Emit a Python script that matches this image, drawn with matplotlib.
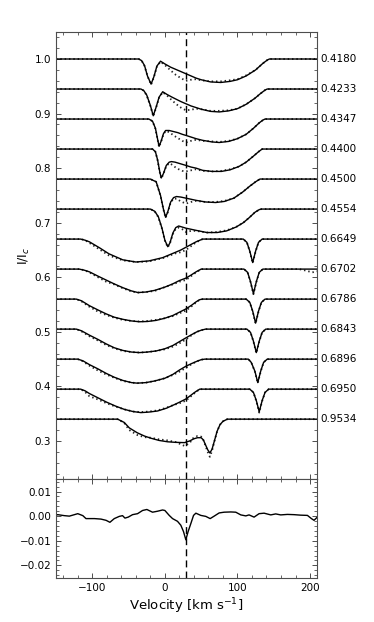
import numpy as np
import matplotlib
matplotlib.use('Agg')
import matplotlib.pyplot as plt
import matplotlib.transforms as mtransforms
from matplotlib.ticker import MultipleLocator

# orbital phases (right-hand labels) and continuum level of each profile
phases = ['0.4180', '0.4233', '0.4347', '0.4400', '0.4500', '0.4554',
          '0.6649', '0.6702', '0.6786', '0.6843', '0.6896', '0.6950', '0.9534']
continuum = [1.0, 0.945, 0.89, 0.835, 0.78, 0.725,
             0.67, 0.615, 0.56, 0.505, 0.45, 0.395, 0.34]

# line depths below continuum: velocity knots, model (line), observed (dots)
v_4180 = [-150, -36, -32, -28, -24, -19, -15, -11, -6, 0, 8, 15, 22, 29, 36, 43, 50, 63, 77, 90, 100, 112, 125, 135, 141, 144, 210]
mod_4180 = [0, 0, 0.003, 0.012, 0.031, 0.046, 0.032, 0.013, 0.004, 0.009, 0.015, 0.019, 0.023, 0.027, 0.031, 0.035, 0.038, 0.042, 0.043, 0.041, 0.038, 0.031, 0.020, 0.008, 0.002, 0, 0]
obs_4180 = [0, 0, 0.003, 0.013, 0.031, 0.047, 0.033, 0.014, 0.005, 0.011, 0.021, 0.029, 0.035, 0.040, 0.038, 0.037, 0.039, 0.041, 0.041, 0.039, 0.037, 0.030, 0.020, 0.008, 0.002, 0, 0]

v_4233 = [-150, -33, -29, -25, -20, -16, -12, -8, -3, 3, 10, 16, 22, 29, 36, 43, 50, 63, 75, 88, 100, 112, 124, 132, 138, 141, 210]
mod_4233 = [0, 0, 0.003, 0.011, 0.030, 0.049, 0.033, 0.015, 0.005, 0.010, 0.015, 0.019, 0.023, 0.027, 0.031, 0.034, 0.037, 0.041, 0.042, 0.040, 0.036, 0.028, 0.017, 0.008, 0.002, 0, 0]
obs_4233 = [0, 0, 0.003, 0.012, 0.031, 0.050, 0.034, 0.016, 0.006, 0.012, 0.021, 0.028, 0.034, 0.039, 0.038, 0.036, 0.037, 0.040, 0.040, 0.039, 0.036, 0.028, 0.017, 0.008, 0.002, 0, 0]

v_4347 = [-150, -22, -17, -13, -10, -8, -5, -2, 1, 6, 12, 18, 24, 29, 36, 43, 52, 65, 75, 88, 100, 112, 122, 130, 135, 138, 210]
mod_4347 = [0, 0, 0.004, 0.017, 0.037, 0.050, 0.040, 0.027, 0.021, 0.021, 0.023, 0.025, 0.028, 0.030, 0.033, 0.036, 0.039, 0.042, 0.043, 0.041, 0.036, 0.028, 0.017, 0.007, 0.002, 0, 0]
obs_4347 = [0, 0, 0.004, 0.018, 0.038, 0.051, 0.041, 0.028, 0.022, 0.024, 0.030, 0.035, 0.040, 0.043, 0.040, 0.038, 0.040, 0.041, 0.042, 0.040, 0.036, 0.028, 0.017, 0.007, 0.002, 0, 0]

v_4400 = [-150, -17, -13, -10, -7, -5, -2, 2, 6, 9, 14, 19, 24, 29, 36, 43, 52, 65, 78, 90, 102, 112, 122, 129, 134, 210]
mod_4400 = [0, 0, 0.005, 0.020, 0.042, 0.053, 0.045, 0.030, 0.024, 0.023, 0.024, 0.026, 0.028, 0.030, 0.033, 0.035, 0.039, 0.041, 0.041, 0.038, 0.032, 0.024, 0.013, 0.005, 0, 0]
obs_4400 = [0, 0, 0.005, 0.021, 0.043, 0.054, 0.046, 0.031, 0.026, 0.028, 0.033, 0.037, 0.040, 0.041, 0.039, 0.037, 0.040, 0.041, 0.040, 0.037, 0.032, 0.024, 0.013, 0.005, 0, 0]

v_4500 = [-150, -20, -12, -6, -2, 1, 4, 8, 12, 16, 22, 29, 36, 43, 56, 70, 82, 95, 107, 117, 125, 131, 210]
mod_4500 = [0, 0, 0.005, 0.030, 0.055, 0.070, 0.060, 0.042, 0.034, 0.032, 0.033, 0.035, 0.037, 0.039, 0.042, 0.043, 0.041, 0.035, 0.024, 0.013, 0.005, 0, 0]
obs_4500 = [0, 0, 0.005, 0.031, 0.056, 0.071, 0.061, 0.043, 0.036, 0.036, 0.041, 0.045, 0.042, 0.040, 0.042, 0.042, 0.040, 0.035, 0.024, 0.013, 0.005, 0, 0]

v_4554 = [-150, -20, -14, -9, -4, 0, 4, 7, 11, 15, 19, 24, 29, 36, 43, 58, 72, 85, 98, 108, 116, 124, 130, 133, 210]
mod_4554 = [0, 0, 0.004, 0.014, 0.035, 0.057, 0.069, 0.062, 0.044, 0.034, 0.031, 0.033, 0.035, 0.037, 0.039, 0.043, 0.043, 0.040, 0.033, 0.025, 0.016, 0.006, 0.001, 0, 0]
obs_4554 = [0, 0, 0.004, 0.015, 0.036, 0.058, 0.070, 0.063, 0.046, 0.036, 0.034, 0.037, 0.042, 0.040, 0.040, 0.043, 0.042, 0.039, 0.033, 0.025, 0.016, 0.006, 0.001, 0, 0]

v_6649 = [-150, -116, -110, -104, -90, -77, -58, -40, -22, -3, 15, 22, 29, 36, 43, 52, 108, 113, 117, 121, 125, 129, 134, 210]
mod_6649 = [0, 0, 0.002, 0.005, 0.016, 0.027, 0.038, 0.042, 0.040, 0.034, 0.024, 0.020, 0.015, 0.010, 0.005, 0, 0, 0.006, 0.022, 0.043, 0.022, 0.006, 0, 0]
obs_6649 = [0, 0, 0.002, 0.007, 0.019, 0.030, 0.039, 0.042, 0.041, 0.035, 0.026, 0.024, 0.020, 0.013, 0.006, 0, 0, 0.006, 0.023, 0.044, 0.023, 0.006, 0, 0]

v_6702 = [-150, -118, -111, -104, -92, -81, -70, -58, -46, -37, -26, -14, 0, 11, 20, 29, 36, 43, 50, 109, 114, 118, 122, 126, 130, 135, 185, 195, 203, 210]
mod_6702 = [0, 0, 0.002, 0.005, 0.013, 0.020, 0.027, 0.034, 0.040, 0.043, 0.042, 0.039, 0.033, 0.027, 0.021, 0.0165, 0.011, 0.005, 0, 0, 0.006, 0.023, 0.045, 0.023, 0.006, 0, 0, 0, 0, 0]
obs_6702 = [0, 0, 0.002, 0.006, 0.015, 0.023, 0.028, 0.035, 0.041, 0.043, 0.042, 0.040, 0.033, 0.028, 0.023, 0.020, 0.013, 0.006, 0, 0, 0.006, 0.024, 0.046, 0.024, 0.006, 0, 0, 0.003, 0.006, 0.004]

v_6786 = [-150, -122, -115, -104, -92, -81, -70, -58, -46, -35, -24, -12, 0, 11, 20, 29, 37, 43, 48, 52, 112, 117, 121, 125, 129, 133, 138, 210]
mod_6786 = [0, 0, 0.003, 0.012, 0.020, 0.027, 0.033, 0.037, 0.040, 0.0415, 0.041, 0.039, 0.035, 0.030, 0.024, 0.018, 0.011, 0.005, 0.001, 0, 0, 0.006, 0.022, 0.044, 0.022, 0.006, 0, 0]
obs_6786 = [0, 0, 0.004, 0.014, 0.023, 0.029, 0.034, 0.038, 0.040, 0.041, 0.040, 0.038, 0.035, 0.031, 0.026, 0.021, 0.013, 0.006, 0.001, 0, 0, 0.006, 0.023, 0.045, 0.023, 0.006, 0, 0]

v_6843 = [-150, -122, -115, -104, -92, -81, -70, -58, -46, -35, -24, -12, 0, 11, 20, 29, 37, 44, 50, 56, 113, 118, 122, 126, 130, 134, 139, 210]
mod_6843 = [0, 0, 0.003, 0.011, 0.019, 0.027, 0.034, 0.039, 0.042, 0.043, 0.042, 0.040, 0.036, 0.030, 0.023, 0.016, 0.010, 0.005, 0.002, 0, 0, 0.006, 0.022, 0.043, 0.022, 0.006, 0, 0]
obs_6843 = [0, 0, 0.004, 0.013, 0.021, 0.029, 0.035, 0.040, 0.042, 0.043, 0.042, 0.040, 0.037, 0.032, 0.026, 0.019, 0.011, 0.005, 0.002, 0, 0, 0.006, 0.023, 0.044, 0.023, 0.006, 0, 0]

v_6896 = [-150, -120, -113, -104, -92, -81, -70, -58, -46, -38, -26, -14, 0, 11, 20, 29, 37, 44, 50, 55, 115, 119, 124, 128, 132, 136, 141, 210]
mod_6896 = [0, 0, 0.003, 0.010, 0.018, 0.026, 0.033, 0.039, 0.043, 0.044, 0.043, 0.040, 0.035, 0.028, 0.020, 0.013, 0.008, 0.004, 0.001, 0, 0, 0.006, 0.022, 0.043, 0.022, 0.006, 0, 0]
obs_6896 = [0, 0, 0.004, 0.012, 0.021, 0.028, 0.034, 0.040, 0.043, 0.044, 0.043, 0.040, 0.035, 0.029, 0.023, 0.016, 0.009, 0.004, 0.001, 0, 0, 0.006, 0.023, 0.044, 0.023, 0.006, 0, 0]

v_6950 = [-150, -116, -110, -104, -92, -80, -68, -56, -44, -33, -22, -10, 2, 12, 20, 29, 36, 42, 48, 117, 122, 126, 130, 134, 138, 143, 210]
mod_6950 = [0, 0, 0.003, 0.008, 0.016, 0.024, 0.031, 0.037, 0.041, 0.043, 0.042, 0.040, 0.035, 0.029, 0.024, 0.018, 0.011, 0.005, 0, 0, 0.006, 0.021, 0.0415, 0.021, 0.006, 0, 0]
obs_6950 = [0, 0, 0.005, 0.013, 0.019, 0.026, 0.032, 0.037, 0.041, 0.042, 0.041, 0.039, 0.034, 0.029, 0.026, 0.021, 0.013, 0.006, 0, 0, 0.006, 0.022, 0.043, 0.022, 0.006, 0, 0]

v_9534 = [-150, -65, -56, -49, -38, -28, -19, -8, 4, 15, 27, 34, 40, 45, 50, 53, 56, 59, 62, 65, 68, 72, 76, 80, 86, 210]
mod_9534 = [0, 0, 0.006, 0.016, 0.025, 0.031, 0.035, 0.039, 0.0415, 0.0425, 0.043, 0.040, 0.036, 0.034, 0.034, 0.038, 0.047, 0.056, 0.062, 0.055, 0.041, 0.022, 0.010, 0.004, 0, 0]
obs_9534 = [0, 0, 0.007, 0.020, 0.029, 0.033, 0.034, 0.037, 0.039, 0.042, 0.049, 0.044, 0.033, 0.031, 0.032, 0.038, 0.049, 0.060, 0.069, 0.058, 0.042, 0.022, 0.010, 0.004, 0, 0]

# mean residual (bottom panel)
res_v = [-150, -147.7, -138.5, -131.6, -120, -113, -108.7, -97, -88, -81, -75.7, -69.7, -62.8, -58.3, -55,
         -50.5, -44.5, -37.6, -30.7, -24.8, -17, -10, -3.2, 0, 6, 10.6, 17.4, 22, 25.7, 28.9, 32, 35.8,
         39.5, 42.7, 49.5, 56.4, 62.4, 67.9, 74.8, 81.6, 90.8, 97.7, 104.6, 111.5, 116, 122.9, 129.8,
         136.7, 145.9, 152.7, 159.6, 168.8, 178, 187, 196.4, 201.9, 205.5, 210]
res_val = [0.0003, 0.0006, 0.0002, 0.0, 0.001, 0.0002, -0.001, -0.001, -0.0012, -0.0017, -0.0025, -0.001,
           -0.0001, 0.0002, -0.0008, -0.0004, 0.0006, 0.001, 0.0023, 0.0027, 0.0016, 0.002, 0.0025, 0.0023,
           0.0003, -0.001, -0.0021, -0.0037, -0.0063, -0.0096, -0.0063, -0.003, 0.0003, 0.0012, 0.0003,
           -0.0001, -0.001, 0.0, 0.0013, 0.0016, 0.0017, 0.0016, 0.0005, 0.0001, 0.0005, -0.0004, 0.001,
           0.0012, 0.0005, 0.0009, 0.0005, 0.0007, 0.0006, 0.0004, 0.0003, -0.001, -0.0017, -0.0004]

v_planet = 29

rows = [(v_4180, mod_4180, obs_4180), (v_4233, mod_4233, obs_4233), (v_4347, mod_4347, obs_4347),
        (v_4400, mod_4400, obs_4400), (v_4500, mod_4500, obs_4500), (v_4554, mod_4554, obs_4554),
        (v_6649, mod_6649, obs_6649), (v_6702, mod_6702, obs_6702), (v_6786, mod_6786, obs_6786),
        (v_6843, mod_6843, obs_6843), (v_6896, mod_6896, obs_6896), (v_6950, mod_6950, obs_6950),
        (v_9534, mod_9534, obs_9534)]

plt.rcParams['font.size'] = 7.5
plt.rcParams['axes.edgecolor'] = '0.3'
plt.rcParams['xtick.color'] = '0.3'
plt.rcParams['ytick.color'] = '0.3'
plt.rcParams['xtick.labelcolor'] = 'black'
plt.rcParams['ytick.labelcolor'] = 'black'

fig = plt.figure(figsize=(3.74, 6.22), dpi=100)
ax = fig.add_axes([0.1497, 0.2296, 0.6987, 0.7194])
ax2 = fig.add_axes([0.1497, 0.0712, 0.6987, 0.1584], sharex=ax)

for (v, m, o), c in zip(rows, continuum):
    v = np.array(v)
    ax.plot(v, c - np.array(o), color='0.15', ls=(0, (0.8, 1.6)), lw=1.3)
    ax.plot(v, c - np.array(m), color='black', lw=1.0)

trans = mtransforms.blended_transform_factory(ax.transAxes, ax.transData)
for p, c in zip(phases, continuum):
    ax.text(1.013, c, p, transform=trans, ha='left', va='center', fontsize=7.5)

ax.axvline(v_planet, color='black', ls=(0, (5, 3)), lw=1.0)
ax2.axvline(v_planet, color='black', ls=(0, (5, 3)), lw=1.0)
ax2.plot(res_v, res_val, color='black', lw=1.0)

ax.set_xlim(-150, 210)
ax.set_ylim(0.23, 1.05)
ax2.set_ylim(-0.025, 0.015)

ax.yaxis.set_major_locator(MultipleLocator(0.1))
ax.yaxis.set_minor_locator(MultipleLocator(0.02))
ax2.yaxis.set_major_locator(MultipleLocator(0.01))
ax2.yaxis.set_minor_locator(MultipleLocator(0.002))
ax2.xaxis.set_major_locator(MultipleLocator(100))
ax2.xaxis.set_minor_locator(MultipleLocator(20))

for a in (ax, ax2):
    a.tick_params(which='both', direction='in', top=True, right=True)
    a.tick_params(which='major', length=3.5, width=0.7)
    a.tick_params(which='minor', length=2, width=0.6)
ax.tick_params(labelbottom=False)

ax.set_ylabel('I/I$_c$', fontsize=9, labelpad=2)
ax2.set_xlabel('Velocity [km s$^{-1}$]', fontsize=9.5, labelpad=3)

fig.savefig('out.png', dpi=100)
